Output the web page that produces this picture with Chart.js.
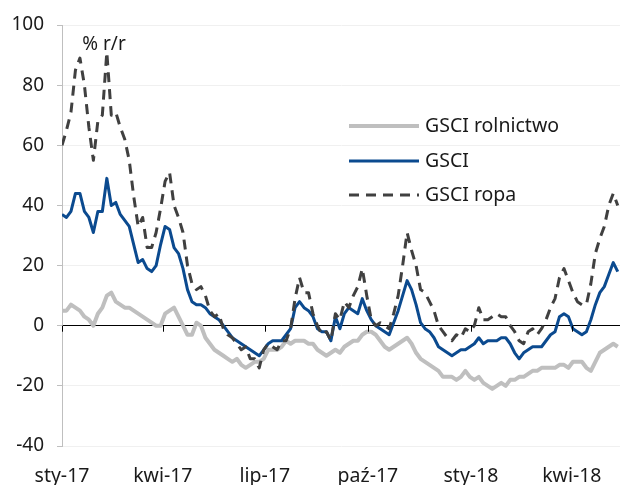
<!DOCTYPE html>
<html>
<head>
<meta charset="utf-8">
<script src="https://cdn.jsdelivr.net/npm/chart.js@4.4.1/dist/chart.umd.min.js"></script>
<style>
  html, body { margin: 0; padding: 0; background: #fff; }
  #wrap { width: 622px; height: 485px; }
</style>
</head>
<body>
<div id="wrap"><canvas id="chart" width="622" height="485"></canvas></div>
<script>
// one reading every STEP days, starting at the first trading day of Jan 2017
const STEP = 4;

const rolnictwo = [
    5, 5, 7, 6, 5, 3, 2, 0, 4, 6,
    10, 11, 8, 7, 6, 6, 5, 4, 3, 2,
    1, 0, 0, 4, 5, 6, 3, 0, -3, -3,
    1, 0, -4, -6, -8, -9, -10, -11, -12, -11,
    -13, -14, -13, -12, -12, -11, -8, -8, -8, -7,
    -5, -6, -5, -5, -5, -6, -6, -8, -9, -10,
    -9, -8, -9, -7, -6, -5, -5, -3, -2, -2,
    -3, -5, -7, -8, -7, -6, -5, -4, -6, -9,
    -11, -12, -13, -14, -15, -17, -17, -17, -18, -17,
    -15, -17, -18, -17, -19, -20, -21, -20, -19, -20,
    -18, -18, -17, -17, -16, -15, -15, -14, -14, -14,
    -14, -13, -13, -14, -12, -12, -12, -14, -15, -12,
    -9, -8, -7, -6, -7
];

const gsci = [
    37, 36, 38, 44, 44, 38, 36, 31, 38, 38,
    49, 40, 41, 37, 35, 33, 27, 21, 22, 19,
    18, 20, 27, 33, 32, 26, 24, 19, 12, 8,
    7, 7, 6, 4, 3, 2, 0, -2, -4, -5,
    -6, -7, -8, -9, -10, -8, -6, -5, -5, -5,
    -3, -1, 6, 8, 6, 5, 3, -1, -2, -2,
    -5, 3, -1, 4, 6, 5, 4, 9, 5, 2,
    0, -1, -2, -3, 1, 5, 10, 15, 12, 7,
    1, -1, -2, -4, -7, -8, -9, -10, -9, -8,
    -8, -7, -6, -4, -6, -5, -5, -5, -4, -4,
    -6, -9, -11, -9, -8, -7, -7, -7, -5, -3,
    -2, 3, 4, 3, -1, -2, -3, -2, 2, 7,
    11, 13, 17, 21, 18
];

const ropa = [
    60, 65, 71, 85, 89, 80, 66, 55, 68, 70,
    91, 70, 71, 66, 62, 55, 43, 33, 36, 26,
    26, 31, 39, 48, 51, 40, 36, 31, 20, 14,
    12, 13, 10, 5, 3, 4, -1, -3, -4, -6,
    -8, -7, -11, -11, -14, -8, -6, -7, -8, -5,
    -5, -1, 9, 16, 11, 11, 4, 0, -3, -2,
    -5, 4, 2, 8, 6, 10, 13, 19, 10, 2,
    0, 1, 0, -1, 4, 10, 20, 31, 25, 20,
    12, 11, 8, 5, 0, -2, -4, -5, -3, -4,
    -1, -2, 0, 6, 2, 2, 3, 4, 3, 3,
    0, -2, -5, -6, -2, -1, -3, -1, 2, 6,
    9, 16, 19, 15, 11, 8, 7, 7, 14, 24,
    29, 33, 40, 44, 40
];

// quarter starts (days from 1 Jan 2017) and their labels
const tickDays = [0, 90, 181, 273, 365, 455];
const tickLabels = ['sty-17', 'kwi-17', 'lip-17', 'paź-17', 'sty-18', 'kwi-18'];

const seriesNames = ['GSCI rolnictwo', 'GSCI', 'GSCI ropa'];

const FONT = '"Noto Sans", "DejaVu Sans", sans-serif';
const TXT = '#1a1a1a';

function toPoints(arr) {
    return arr.map((v, i) => ({ x: i * STEP, y: v }));
}

// small ticks on the zero line, legend box and unit label
const extras = {
    id: 'extras',
    afterDraw(chart) {
        const ctx = chart.ctx;
        const xs = chart.scales.x;
        const ys = chart.scales.y;
        const y0 = ys.getPixelForValue(0);
        ctx.save();
        ctx.strokeStyle = '#000';
        ctx.lineWidth = 1;
        tickDays.forEach(d => {
            const px = Math.round(xs.getPixelForValue(d)) + 0.5;
            ctx.beginPath();
            ctx.moveTo(px, y0);
            ctx.lineTo(px, y0 + 6);
            ctx.stroke();
        });

        // unit label
        ctx.fillStyle = TXT;
        ctx.font = '19px ' + FONT;
        ctx.textAlign = 'center';
        ctx.textBaseline = 'middle';
        ctx.fillText('% r/r', 104, 45);

        // legend
        const rows = [
            { y: 126, color: '#bfbfbf', width: 4, dash: [] },
            { y: 161, color: '#0b4a8f', width: 3, dash: [] },
            { y: 195, color: '#404040', width: 3, dash: [10, 7] }
        ];
        ctx.font = '19.5px ' + FONT;
        ctx.textAlign = 'left';
        rows.forEach((r, i) => {
            ctx.beginPath();
            ctx.setLineDash(r.dash);
            ctx.strokeStyle = r.color;
            ctx.lineWidth = r.width;
            ctx.moveTo(349, r.y);
            ctx.lineTo(419, r.y);
            ctx.stroke();
            ctx.setLineDash([]);
            ctx.fillText(seriesNames[i], 425, r.y);
        });
        ctx.restore();
    }
};

new Chart(document.getElementById('chart'), {
    type: 'line',
    data: {
        datasets: [
            {
                label: seriesNames[2],
                data: toPoints(ropa),
                borderColor: '#404040',
                borderWidth: 3,
                borderDash: [10, 7],
                order: 0
            },
            {
                label: seriesNames[1],
                data: toPoints(gsci),
                borderColor: '#0b4a8f',
                borderWidth: 3,
                order: 1
            },
            {
                label: seriesNames[0],
                data: toPoints(rolnictwo),
                borderColor: '#bfbfbf',
                borderWidth: 4,
                order: 2
            }
        ]
    },
    options: {
        responsive: false,
        animation: false,
        events: [],
        elements: {
            point: { radius: 0 },
            line: { tension: 0, fill: false, borderCapStyle: 'butt', borderJoinStyle: 'round' }
        },
        layout: { padding: { top: 25, right: 2, left: 0, bottom: 0 } },
        plugins: {
            legend: { display: false },
            tooltip: { enabled: false }
        },
        scales: {
            x: {
                type: 'linear',
                min: 0,
                max: 498,
                grid: { display: false },
                border: { display: false },
                afterBuildTicks: scale => {
                    scale.ticks = tickDays.map(v => ({ value: v }));
                },
                afterFit: scale => { scale.height = 39; },
                ticks: {
                    autoSkip: false,
                    maxRotation: 0,
                    padding: 11,
                    color: TXT,
                    font: { family: FONT, size: 19.5 },
                    callback: v => tickLabels[tickDays.indexOf(v)] || ''
                }
            },
            y: {
                min: -40,
                max: 100,
                afterFit: scale => { scale.width = 62; },
                grid: {
                    color: c => (c.tick && c.tick.value === 0 ? '#000' : '#f0f0f0'),
                    lineWidth: 1,
                    tickLength: 5,
                    tickColor: '#bfbfbf'
                },
                border: { color: '#bfbfbf', width: 1 },
                ticks: {
                    stepSize: 20,
                    padding: 13,
                    color: TXT,
                    font: { family: FONT, size: 19 }
                }
            }
        }
    },
    plugins: [extras]
});
</script>
</body>
</html>
